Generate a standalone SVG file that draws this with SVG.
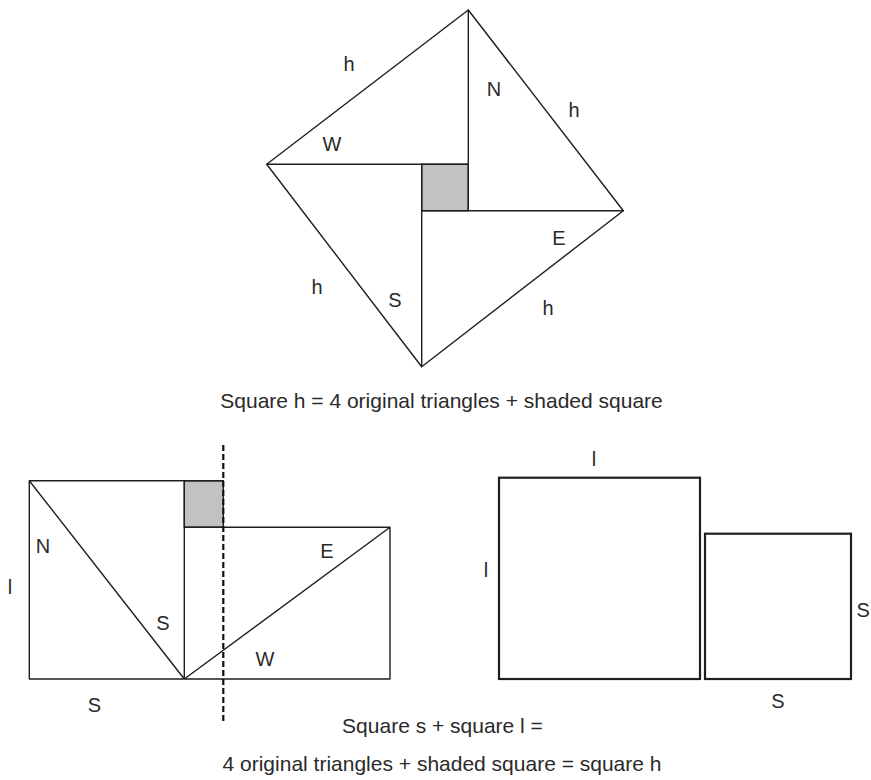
<svg xmlns="http://www.w3.org/2000/svg" width="871" height="780" viewBox="0 0 871 780">
<style>
.ln{stroke:#1e1e1e;stroke-width:1.4;fill:none;stroke-linecap:round;stroke-linejoin:round}
.thick{stroke:#1e1e1e;stroke-width:2.2;fill:none}
.sh{fill:#c2c2c2;stroke:#1e1e1e;stroke-width:1.4}
.dash{stroke:#111;stroke-width:2.2;stroke-dasharray:6 3;fill:none}
text{font-family:"Liberation Sans",Arial,sans-serif;font-size:20px;fill:#2a2a2a}
.lbl{text-anchor:middle}
.cap{text-anchor:middle;font-size:21px}
</style>
<rect width="871" height="780" fill="#fff"/>
<g id="top-square">
<rect class="sh" x="421.7" y="164.3" width="46.6" height="46.4"/>
<path class="ln" d="M468.3 10 L623.3 210.7 L421.7 366.7 L266.7 164.3 Z"/>
<path class="ln" d="M468.3 10 V210.7 M266.7 164.3 H468.3 M421.7 164.3 V366.7 M421.7 210.7 H623.3"/>
<text class="lbl" x="349" y="70.7">h</text>
<text class="lbl" x="494" y="95.7">N</text>
<text class="lbl" x="574" y="116.7">h</text>
<text class="lbl" x="332" y="150.7">W</text>
<text class="lbl" x="559" y="245">E</text>
<text class="lbl" x="317" y="294">h</text>
<text class="lbl" x="395" y="306.7">S</text>
<text class="lbl" x="548" y="315">h</text>
</g>
<text id="caption1" class="cap" x="441.5" y="408">Square h = 4 original triangles + shaded square</text>
<g id="rearranged">
<rect class="sh" x="184.3" y="480.7" width="39" height="46.6"/>
<path class="ln" d="M29.3 480.7 H223.3 M29.3 480.7 V679 H390 V527.3 H184.3 M184.3 480.7 V679 M29.3 480.7 L184.3 679 L390 527.3"/>
<text class="lbl" x="43" y="552.7">N</text>
<text class="lbl" x="10" y="594">l</text>
<text class="lbl" x="163" y="630">S</text>
<text class="lbl" x="327" y="558.3">E</text>
<text class="lbl" x="265" y="666">W</text>
<text class="lbl" x="94.5" y="711.7">S</text>
</g>
<g id="connectors">
<line class="dash" x1="223.3" y1="445" x2="223.3" y2="721"/>
</g>
<g id="square-l">
<rect class="thick" x="499" y="477.7" width="201" height="201.3"/>
<text class="lbl" x="594" y="466">l</text>
<text class="lbl" x="486" y="577.3">l</text>
</g>
<g id="square-s">
<rect class="thick" x="705" y="533.7" width="146" height="145.3"/>
<text x="856.5" y="616.7">S</text>
<text class="lbl" x="778" y="708.3">S</text>
</g>
<text id="caption2" class="cap" x="442.5" y="733">Square s + square l =</text>
<text id="caption3" class="cap" x="442" y="771">4 original triangles + shaded square = square h</text>
</svg>
